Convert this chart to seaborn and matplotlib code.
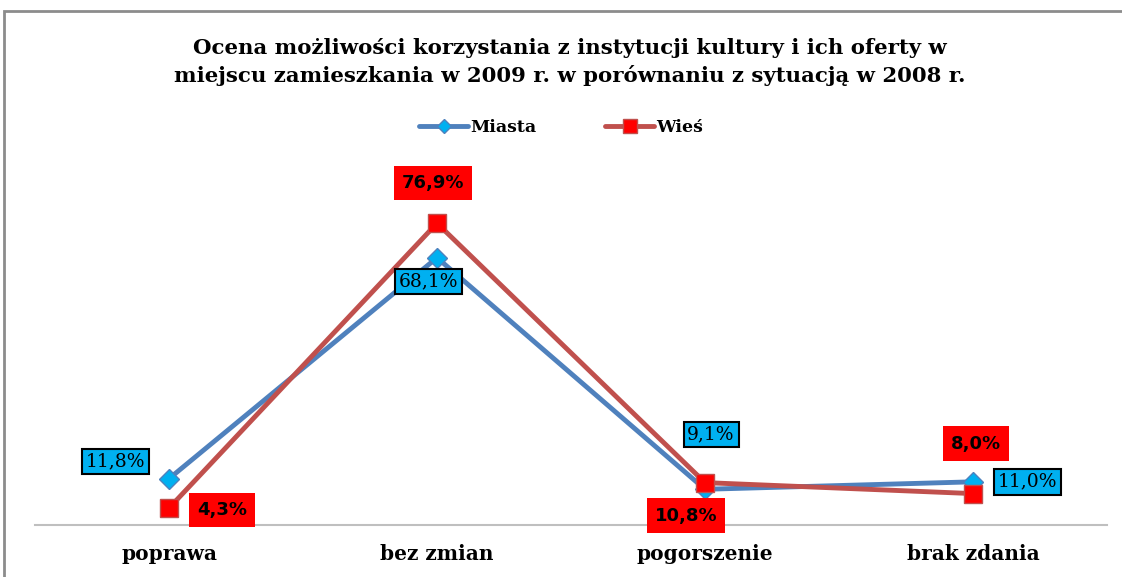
import pandas as pd
import seaborn as sns
import matplotlib.pyplot as plt
from matplotlib.patches import Rectangle

# dane
kategorie = ['poprawa', 'bez zmian', 'pogorszenie', 'brak zdania']
miasta = [11.8, 68.1, 9.1, 11.0]
wies = [4.3, 76.9, 10.8, 8.0]

# przesunięcia etykiet w pikselach (dx, dy)
przes_miasta = [(-54, 17), (-9, -24), (6, 55), (54, 0)]
przes_wies = [(53, -2), (-4, 40), (-19, -33), (3, 50)]

tytul = ("Ocena możliwości korzystania z instytucji kultury i ich oferty w\n"
         "miejscu zamieszkania w 2009 r. w porównaniu z sytuacją w 2008 r.")


def etykieta(v):
    return f"{v:.1f}%".replace('.', ',')


def main():
    sns.set_style("white")
    plt.rcParams['font.family'] = ['DejaVu Serif']
    plt.rcParams['text.color'] = 'black'
    plt.rcParams['xtick.color'] = 'black'

    df = pd.DataFrame({'kategoria': kategorie, 'Miasta': miasta, 'Wieś': wies})

    fig = plt.figure(figsize=(11.22, 5.77), dpi=100)
    ax = fig.add_axes([35 / 1122, 52 / 577, 1072 / 1122, 314 / 577])

    sns.lineplot(data=df, x='kategoria', y='Miasta', ax=ax, color='#4F81BD', lw=3.5,
                 marker='D', markersize=10, markerfacecolor='#00B0F0',
                 markeredgecolor='#4F81BD', markeredgewidth=1, label='Miasta', clip_on=False)
    sns.lineplot(data=df, x='kategoria', y='Wieś', ax=ax, color='#C0504D', lw=3.5,
                 marker='s', markersize=13, markerfacecolor='#FF0000',
                 markeredgecolor='#C0504D', markeredgewidth=1, label='Wieś', clip_on=False)

    ax.set_xlim(-0.5, 3.5)
    ax.set_ylim(0, 80)

    for i, k in enumerate(kategorie):
        ax.annotate(etykieta(miasta[i]), (k, miasta[i]), xytext=przes_miasta[i],
                    textcoords='offset pixels', ha='center', va='center',
                    fontsize=13.5, family=['DejaVu Serif'], color='black',
                    bbox=dict(boxstyle='square,pad=0.2', fc='#00B0F0', ec='black', lw=1.5))
        ax.annotate(etykieta(wies[i]), (k, wies[i]), xytext=przes_wies[i],
                    textcoords='offset pixels', ha='center', va='center',
                    fontsize=13, fontweight='bold', family=['DejaVu Sans'], color='black',
                    bbox=dict(boxstyle='square,pad=0.45', fc='#FF0000', ec='none'))

    # osie
    for s in ['top', 'right', 'left']:
        ax.spines[s].set_visible(False)
    ax.spines['bottom'].set_color('#BFBFBF')
    ax.spines['bottom'].set_linewidth(1.5)
    ax.set_yticks([])
    ax.set_xlabel('')
    ax.set_ylabel('')
    ax.tick_params(axis='x', length=0, pad=14, colors='black')
    for t in ax.get_xticklabels():
        t.set_fontsize(14.5)
        t.set_fontweight('bold')

    fig.text(0.508, 1 - 62 / 577, tytul, ha='center', va='center', fontsize=15.3,
             fontweight='bold', linespacing=1.4, color='black')

    ax.legend(loc='center', bbox_to_anchor=(0.5, 1 - 128 / 577), bbox_transform=fig.transFigure,
              ncol=2, frameon=False, handlelength=2.8, columnspacing=4, handletextpad=0.1,
              markerscale=0.75, labelcolor='black',
              prop={'family': 'DejaVu Serif', 'weight': 'bold', 'size': 12.5})

    # ramka wykresu
    fig.patches.append(Rectangle((4 / 1122, -0.1), 1.2, (577 - 11) / 577 + 0.1,
                                 transform=fig.transFigure, fill=False,
                                 ec='#8C8C8C', lw=2, zorder=0))

    fig.savefig('out.png', dpi=100)


if __name__ == "__main__":
    main()
